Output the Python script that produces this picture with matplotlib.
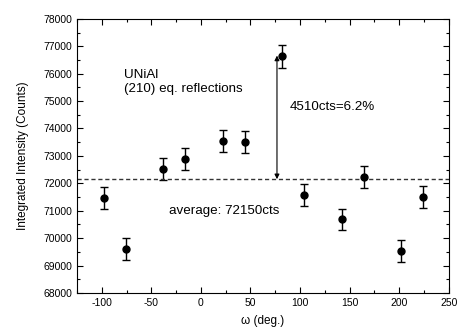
import numpy as np
import matplotlib
matplotlib.use('Agg')
import matplotlib.pyplot as plt
from matplotlib.ticker import MultipleLocator

plt.rcParams['font.family'] = ['Liberation Sans', 'DejaVu Sans']
plt.rcParams['axes.unicode_minus'] = False

# data
omega = [-98, -76, -38, -16, 22, 44, 82, 104, 142, 164, 202, 224]
intensity = [71480, 69610, 72510, 72900, 73530, 73510, 76630, 71590, 70680, 72220, 69530, 71500]
err = [400, 400, 400, 400, 400, 400, 420, 400, 400, 400, 400, 400]
average = 72150
diff = 4510

fig = plt.figure(figsize=(4.58, 3.31), dpi=100)
ax = fig.add_axes([0.168, 0.115, 0.812, 0.828])

ax.errorbar(omega, intensity, yerr=err, fmt='o', color='black', ms=5,
            elinewidth=1, capsize=3, capthick=1)
ax.axhline(average, color='#333333', ls=(0, (3, 2)), lw=1)

# double arrow showing the deviation of the largest point
ax.annotate('', xy=(76.7, average), xytext=(76.7, average + diff),
            arrowprops=dict(arrowstyle='<|-|>', color='black', lw=0.8,
                            mutation_scale=7, shrinkA=0, shrinkB=0))

ax.text(-78, 75950, 'UNiAl', fontsize=9.6, va='center')
ax.text(-78, 75440, '(210) eq. reflections', fontsize=9.6, va='center')
ax.text(90, 74790, '4510cts=6.2%', fontsize=9.6, va='center')
ax.text(-32, 71000, 'average: 72150cts', fontsize=9.6, va='center')

ax.set_xlim(-125, 250)
ax.set_ylim(68000, 78000)
ax.xaxis.set_major_locator(MultipleLocator(50))
ax.xaxis.set_minor_locator(MultipleLocator(25))
ax.yaxis.set_major_locator(MultipleLocator(1000))
ax.yaxis.set_minor_locator(MultipleLocator(500))
ax.tick_params(which='both', direction='in', top=True, right=True, labelsize=7.5, width=0.8)
ax.tick_params(which='major', length=4)
ax.tick_params(which='minor', length=2)
for s in ax.spines.values():
    s.set_linewidth(0.8)

ax.set_xlabel('ω (deg.)', fontsize=8.5, labelpad=5)
ax.set_ylabel('Integrated Intensity (Counts)', fontsize=8.5, labelpad=10)

fig.savefig('out.png', dpi=100)
